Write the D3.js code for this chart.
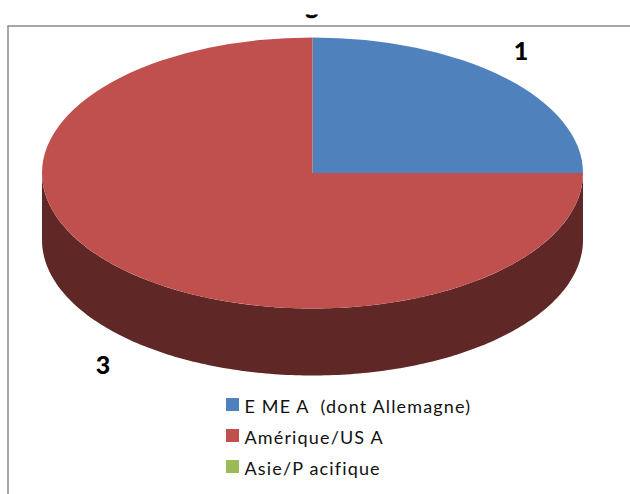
<!DOCTYPE html>
<html>
<head>
<meta charset="utf-8">
<script src="https://cdn.jsdelivr.net/npm/d3@7"></script>
<style>
  html, body { margin: 0; padding: 0; background: #fff; }
  svg { display: block; }
  text { font-family: Lato, "Open Sans", sans-serif; }
</style>
</head>
<body>
<svg id="chart"></svg>
<script>
const svg_width = 630;
const svg_height = 494;

const categories = ["E ME A  (dont Allemagne)", "Amérique/US A", "Asie/P acifique"];
const values = [1, 3, 0];
const labels = ["1", "3", ""];
const colors = ["#4f81bd", "#c0504d", "#9bbb59"];
const side_colors = ["#2a4563", "#5f2726", "#52632f"];

var center = { x: 312.5, y: 173 };
var rx = 270.5;
var ry = 135.5;
var depth = 67;

var svg = d3.select("svg#chart")
    .attr("width", svg_width)
    .attr("height", svg_height);

// chart frame
svg.append("rect")
    .attr("x", 8)
    .attr("y", 26)
    .attr("width", 640)
    .attr("height", 500)
    .style("fill", "#fff")
    .style("stroke", "#8c8c8c")
    .style("stroke-width", 1.5);

// only the bottom of the title survives, it is cut off in the source
svg.append("clipPath")
    .attr("id", "title-clip")
    .append("rect")
    .attr("x", 0)
    .attr("y", 14.5)
    .attr("width", svg_width)
    .attr("height", 12);

svg.append("text")
    .attr("x", 312)
    .attr("y", 14)
    .attr("text-anchor", "middle")
    .attr("clip-path", "url(#title-clip)")
    .style("font-size", "24px")
    .style("font-weight", "900")
    .style("stroke", "#000")
    .style("stroke-width", 0.6)
    .text("g");

var pie = d3.pie().sort(null)(values);

// front wall, clockwise angles from the top like d3.pie
var wall_angle = d3.scaleLinear().domain([0, 1]).range([Math.PI / 2, 3 * Math.PI / 2]);
var wall = d3.area()
    .x(t => center.x + rx * Math.sin(wall_angle(t)))
    .y0(t => center.y - ry * Math.cos(wall_angle(t)))
    .y1(t => center.y - ry * Math.cos(wall_angle(t)) + depth);

svg.append("path")
    .attr("d", wall(d3.range(0, 1.0001, 0.005)))
    .style("fill", side_colors[1]);

var arc = d3.arc().innerRadius(0).outerRadius(rx);

svg.append("g")
    .attr("transform", "translate(" + center.x + "," + center.y + ") scale(1," + (ry / rx) + ")")
    .selectAll("path")
    .data(pie)
    .enter()
    .append("path")
    .attr("d", arc)
    .style("fill", (d, i) => colors[i]);

// data labels
var label_pos = [[521, 60], [103, 374]];
svg.selectAll("text.value")
    .data(labels.filter(d => d !== ""))
    .enter()
    .append("text")
    .attr("class", "value")
    .attr("x", (d, i) => label_pos[i][0])
    .attr("y", (d, i) => label_pos[i][1])
    .attr("text-anchor", "middle")
    .style("font-size", "25px")
    .style("font-weight", "900")
    .style("fill", "#000")
    .text(d => d);

// legend
var legend_y = d3.scalePoint().domain(categories).range([405, 467]);

var legend = svg.selectAll("g.legend")
    .data(categories)
    .enter()
    .append("g")
    .attr("class", "legend")
    .attr("transform", d => "translate(226," + legend_y(d) + ")");

legend.append("rect")
    .attr("x", 0)
    .attr("y", -7)
    .attr("width", 13)
    .attr("height", 13)
    .style("fill", (d, i) => colors[i]);

legend.append("text")
    .attr("x", 18.5)
    .attr("y", 8)
    .attr("xml:space", "preserve")
    .style("white-space", "pre")
    .style("font-size", "18px")
    .style("letter-spacing", "1.15px")
    .style("fill", "#111")
    .text(d => d);
</script>
</body>
</html>
